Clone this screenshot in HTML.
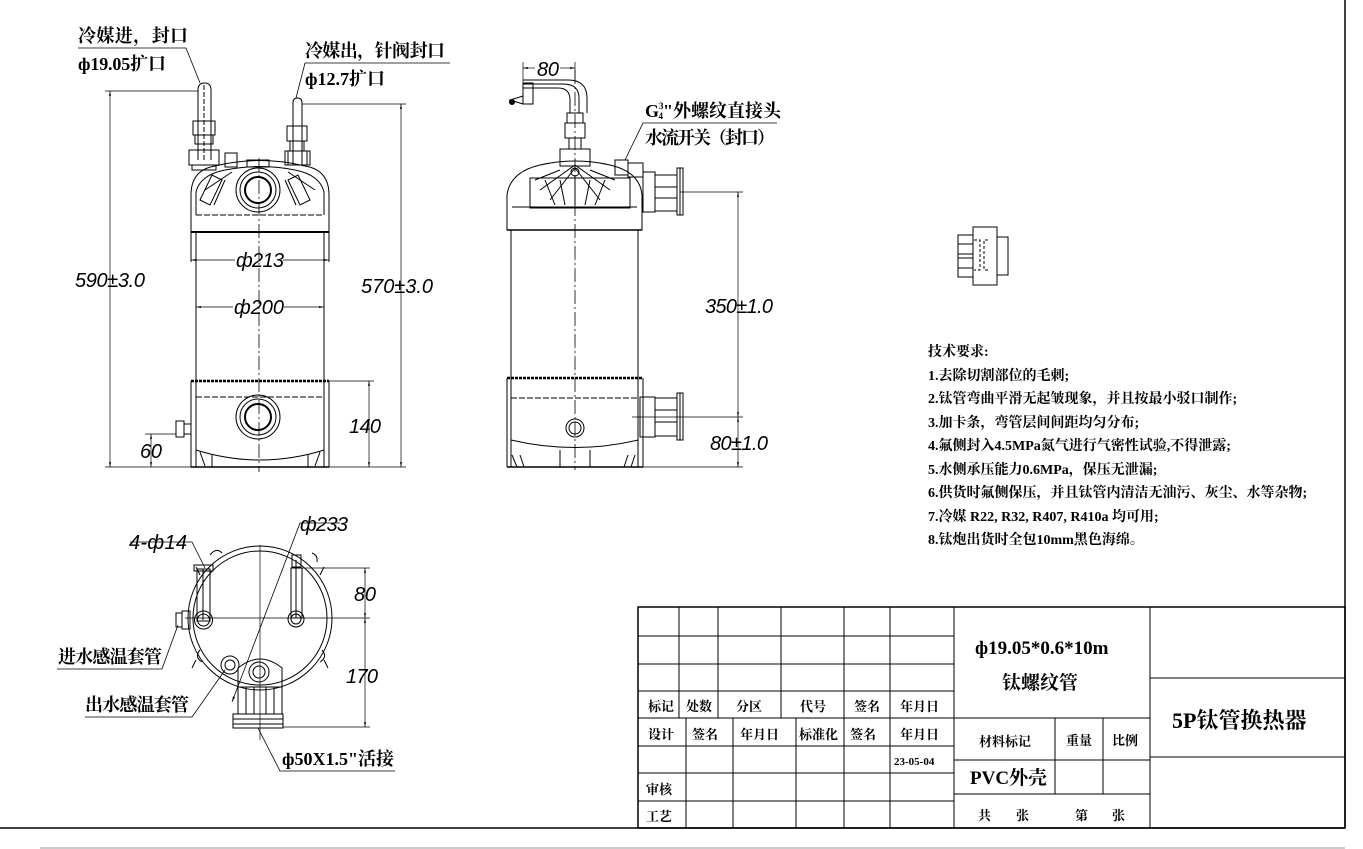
<!DOCTYPE html>
<html><head><meta charset="utf-8"><style>
html,body{margin:0;padding:0;background:#fff;}
svg{display:block;}
.t{font-family:"Liberation Serif","Noto Serif CJK SC",serif;font-weight:bold;fill:#000;}
.d{font-family:"Liberation Sans",sans-serif;font-style:italic;fill:#000;font-weight:normal;}
.tb{font-family:"Liberation Serif","Noto Serif CJK SC",serif;fill:#000;font-weight:bold;}
</style></head><body>
<svg width="1363" height="849" viewBox="0 0 1363 849" xmlns="http://www.w3.org/2000/svg">
<defs>
<marker id="a" viewBox="0 0 10 10" refX="10" refY="5" markerWidth="7" markerHeight="7" orient="auto-start-reverse"><path d="M0,3 L10,5 L0,7z" fill="#000"/></marker>
</defs>
<g stroke="#000" fill="none" stroke-width="1">
<line x1="1345" y1="0" x2="1345" y2="828" stroke-width="1.5"/>
<line x1="0" y1="828" x2="1345" y2="828" stroke-width="1.5"/>
<line x1="40" y1="848" x2="1345" y2="848" stroke="#999"/>

<!-- LEFT FRONT VIEW -->
<path d="M191,232 L191,195 Q191,170 215,166 Q260,155 305,166 Q329,170 329,195 L329,232"/>
<path d="M196,215 L196,192 Q200,175 225,170 Q260,163 295,170 Q320,175 324,192 L324,215"/>
<line x1="191" y1="232" x2="191" y2="262"/><line x1="329" y1="232" x2="329" y2="262"/>
<line x1="196" y1="232" x2="196" y2="467"/><line x1="324" y1="232" x2="324" y2="467"/>
<line x1="196" y1="215" x2="324" y2="215" stroke-dasharray="6,2"/>
<line x1="191" y1="232" x2="329" y2="232" stroke-width="2"/>
<line x1="191" y1="381" x2="329" y2="381" stroke-width="2.5" stroke-dasharray="3,1"/>
<line x1="191" y1="381" x2="191" y2="467"/><line x1="329" y1="381" x2="329" y2="467"/>
<line x1="196" y1="397" x2="324" y2="397" stroke-dasharray="6,2"/>
<path d="M196,450 Q260,470 324,450"/>
<line x1="191" y1="467" x2="329" y2="467" stroke-width="1.5"/>
<path d="M200,452 l5,14 M212,455 l0,12 M308,455 l0,12 M320,452 l-5,14"/>
<path d="M200,200 L212,175 L222,180 L210,205z M310,200 L298,175 L288,180 L300,205z M214,205 L225,180 M296,205 L285,180 M205,190 L232,172 M315,190 L288,172"/>
<circle cx="258" cy="190" r="22"/><circle cx="258" cy="190" r="18"/><circle cx="258" cy="190" r="13" stroke-width="2"/>
<circle cx="258" cy="417" r="22"/><circle cx="258" cy="417" r="18"/><circle cx="258" cy="417" r="13" stroke-width="2"/>
<rect x="225" y="153" width="12" height="14"/>
<rect x="247" y="160" width="22" height="7"/>
<path d="M198,160 L198,90 Q198,83 204.5,83 Q211,83 211,90 L211,160"/>
<line x1="204" y1="85" x2="204" y2="160" stroke-dasharray="5,2"/>
<rect x="193" y="121" width="22" height="14"/><rect x="195" y="135" width="18" height="9"/>
<rect x="189" y="150" width="30" height="15"/><rect x="192" y="165" width="24" height="5"/>
<path d="M293,165 L293,103 Q293,98 297.5,98 Q302,98 302,103 L302,165"/>
<rect x="287" y="126" width="20" height="15"/><rect x="290" y="141" width="14" height="10"/>
<rect x="285" y="151" width="25" height="14"/><rect x="288" y="151" width="19" height="14"/>
<rect x="176" y="421" width="8" height="16"/><rect x="184" y="424" width="7" height="10"/>
<line x1="259" y1="158" x2="259" y2="472" stroke-dasharray="14,3,2,3" stroke-width="0.8"/>
<line x1="105" y1="91" x2="198" y2="91" stroke-width="0.7"/>
<line x1="105" y1="467" x2="196" y2="467" stroke-width="0.7"/>
<line x1="110" y1="91" x2="110" y2="467" stroke-width="0.7" marker-start="url(#a)" marker-end="url(#a)"/>
<line x1="302" y1="104" x2="406" y2="104" stroke-width="0.7"/>
<line x1="329" y1="467" x2="406" y2="467" stroke-width="0.7"/>
<line x1="401" y1="104" x2="401" y2="467" stroke-width="0.7" marker-start="url(#a)" marker-end="url(#a)"/>
<line x1="329" y1="381" x2="374" y2="381" stroke-width="0.7"/>
<line x1="369" y1="381" x2="369" y2="467" stroke-width="0.7" marker-start="url(#a)" marker-end="url(#a)"/>
<line x1="145" y1="434" x2="176" y2="434" stroke-width="0.7"/>
<line x1="151" y1="434" x2="151" y2="467" stroke-width="0.7" marker-start="url(#a)" marker-end="url(#a)"/>
<line x1="191" y1="260" x2="235" y2="260" stroke-width="0.7" marker-start="url(#a)"/>
<line x1="283" y1="260" x2="329" y2="260" stroke-width="0.7" marker-end="url(#a)"/>
<line x1="196" y1="307" x2="233" y2="307" stroke-width="0.7" marker-start="url(#a)"/>
<line x1="284" y1="307" x2="324" y2="307" stroke-width="0.7" marker-end="url(#a)"/>
<polyline points="78,48 186,48 200,83" stroke-width="0.8"/>
<polyline points="450,63 305,63 296,98" stroke-width="0.8"/>

<!-- MIDDLE SIDE VIEW -->
<path d="M507,230 L507,195 Q510,172 540,165 Q575,157 610,165 Q640,172 642,195 L642,230 Z"/>
<line x1="512" y1="207" x2="637" y2="207"/>
<line x1="507" y1="230" x2="642" y2="230" stroke-width="1.5"/>
<line x1="511" y1="230" x2="511" y2="467"/><line x1="638" y1="230" x2="638" y2="467"/>
<line x1="507" y1="378" x2="643" y2="378" stroke-width="2.5" stroke-dasharray="3,1"/>
<line x1="507" y1="378" x2="507" y2="467"/><line x1="643" y1="378" x2="643" y2="467"/>
<line x1="511" y1="398" x2="638" y2="398" stroke-dasharray="6,2"/>
<path d="M511,440 Q575,455 638,440"/>
<line x1="507" y1="467" x2="643" y2="467" stroke-width="1.5"/>
<path d="M512,455 l5,12 M520,455 l4,12 M628,455 l-4,12 M635,455 l-4,12 M560,450 l0,17 M590,450 l0,17"/>
<rect x="530" y="178" width="100" height="30"/>
<path d="M545,180 L555,205 M560,180 L565,205 M575,175 L575,205 M590,180 L585,205 M605,180 L595,205 M540,190 L575,165 L610,190 M550,200 L575,168 L600,200 M535,180 L560,170 M615,180 L590,170"/>
<circle cx="575" cy="172" r="4"/>
<rect x="560" y="149" width="30" height="17"/>
<rect x="565" y="123" width="20" height="15"/><rect x="567" y="113" width="16" height="10"/>
<rect x="569" y="138" width="12" height="11"/>
<path d="M570,113 L570,100 Q570,88 558,88 L523,88"/>
<path d="M587,113 L587,98 Q587,80 568,80 L523,80"/>
<path d="M579,113 L579,98 Q579,84 563,84 L523,84"/>
<rect x="523" y="83" width="10" height="21"/>
<path d="M523,96 L510,100 L523,104" />
<circle cx="512" cy="102" r="2.5" fill="#000"/>
<rect x="615" y="160" width="13" height="15"/><rect x="628" y="163" width="15" height="14"/>
<rect x="643" y="172" width="12" height="40"/><rect x="655" y="175" width="22" height="36"/>
<line x1="655" y1="187" x2="677" y2="187"/><line x1="655" y1="198" x2="677" y2="198"/>
<rect x="677" y="168" width="6" height="47"/><line x1="680" y1="168" x2="680" y2="215"/>
<rect x="640" y="397" width="15" height="40"/><rect x="655" y="398" width="22" height="38"/>
<line x1="655" y1="410" x2="677" y2="410"/><line x1="655" y1="422" x2="677" y2="422"/>
<rect x="677" y="393" width="6" height="47"/><line x1="680" y1="393" x2="680" y2="440"/>
<circle cx="575" cy="428" r="9"/><circle cx="575" cy="428" r="6"/>
<line x1="575" y1="70" x2="575" y2="470" stroke-dasharray="14,3,2,3" stroke-width="0.8"/>
<line x1="523" y1="62" x2="523" y2="84" stroke-width="0.7"/><line x1="575" y1="62" x2="575" y2="80" stroke-width="0.7"/>
<line x1="523" y1="68" x2="535" y2="68" stroke-width="0.7" marker-start="url(#a)"/>
<line x1="560" y1="68" x2="575" y2="68" stroke-width="0.7" marker-end="url(#a)"/>
<line x1="680" y1="192" x2="743" y2="192" stroke-width="0.7"/>
<line x1="632" y1="417" x2="743" y2="417" stroke-width="0.7"/>
<line x1="643" y1="467" x2="743" y2="467" stroke-width="0.7"/>
<line x1="738" y1="192" x2="738" y2="417" stroke-width="0.7" marker-start="url(#a)" marker-end="url(#a)"/>
<line x1="738" y1="417" x2="738" y2="467" stroke-width="0.7" marker-start="url(#a)" marker-end="url(#a)"/>
<polyline points="777,123 643,123 625,160" stroke-width="0.8"/>

<!-- small part -->
<rect x="973" y="227" width="24" height="58"/>
<rect x="958" y="235" width="15" height="42"/>
<line x1="958" y1="244" x2="973" y2="244"/><line x1="958" y1="254" x2="973" y2="254"/><line x1="958" y1="258" x2="973" y2="258"/><line x1="958" y1="268" x2="973" y2="268"/>
<rect x="997" y="237" width="11" height="38"/>
<path d="M974,240 h6 v30 h-6 M988,240 h-4 v30 h4" stroke-dasharray="3,2"/>

<!-- BOTTOM VIEW -->
<circle cx="260" cy="618" r="72"/>
<circle cx="260" cy="618" r="67"/>
<path d="M238,687 L238,668 Q260,650 282,668 L282,687"/>
<circle cx="259" cy="672" r="10"/><circle cx="259" cy="672" r="6"/>
<rect x="238" y="687" width="44" height="27"/>
<line x1="246" y1="687" x2="246" y2="714"/><line x1="254" y1="687" x2="254" y2="714"/><line x1="266" y1="687" x2="266" y2="714"/><line x1="274" y1="687" x2="274" y2="714"/>
<rect x="233" y="714" width="50" height="14"/>
<line x1="233" y1="719" x2="283" y2="719"/><line x1="233" y1="724" x2="283" y2="724"/>
<circle cx="230" cy="665" r="9"/><circle cx="230" cy="665" r="5"/>
<rect x="197" y="569" width="13" height="52"/><line x1="203" y1="569" x2="203" y2="620"/>
<circle cx="203.5" cy="620" r="9"/><circle cx="203.5" cy="620" r="6"/>
<rect x="194" y="565" width="19" height="6"/>
<rect x="291" y="568" width="11" height="50"/><line x1="296" y1="560" x2="296" y2="618"/>
<rect x="292" y="555" width="9" height="12"/>
<circle cx="296" cy="619" r="8"/><circle cx="296" cy="619" r="5"/>
<rect x="176" y="613" width="6" height="14"/><rect x="182" y="611" width="8" height="18"/>
<path d="M210,555 q6,-8 12,-2 M312,553 q6,2 5,9 M202,662 q-8,-5 -2,-12 M320,662 q8,-5 2,-12 M196,660 l-4,8 M324,660 l4,8 M200,575 l-4,-8 M320,575 l4,-8"/>
<line x1="260" y1="545" x2="260" y2="740" stroke-width="0.7"/>
<line x1="185" y1="618" x2="370" y2="618" stroke-width="0.7"/>
<line x1="302" y1="568" x2="370" y2="568" stroke-width="0.7"/>
<line x1="283" y1="727" x2="370" y2="727" stroke-width="0.7"/>
<line x1="365" y1="568" x2="365" y2="618" stroke-width="0.7" marker-start="url(#a)" marker-end="url(#a)"/>
<line x1="365" y1="618" x2="365" y2="727" stroke-width="0.7" marker-start="url(#a)" marker-end="url(#a)"/>
<polyline points="130,542 192,542 205,568" stroke-width="0.8"/>
<polyline points="340,523 300,523 232,702" stroke-width="0.8" marker-end="url(#a)"/>
<polyline points="57,669 162,669 178,625" stroke-width="0.8"/>
<polyline points="85,717 192,717 225,670" stroke-width="0.8"/>
<polyline points="395,771 280,771 258,728" stroke-width="0.8"/>

<!-- TITLE BLOCK -->
<rect x="638" y="607" width="707" height="221" stroke-width="1.5"/>
<line x1="638" y1="636" x2="954" y2="636"/><line x1="638" y1="664" x2="954" y2="664"/><line x1="638" y1="691" x2="954" y2="691"/>
<line x1="638" y1="718" x2="954" y2="718"/><line x1="638" y1="746" x2="954" y2="746"/><line x1="638" y1="773" x2="954" y2="773"/><line x1="638" y1="801" x2="954" y2="801"/>
<line x1="679" y1="607" x2="679" y2="718"/><line x1="718" y1="607" x2="718" y2="718"/><line x1="781" y1="607" x2="781" y2="718"/>
<line x1="686" y1="718" x2="686" y2="828"/><line x1="733" y1="718" x2="733" y2="828"/><line x1="796" y1="718" x2="796" y2="828"/>
<line x1="844" y1="607" x2="844" y2="828"/><line x1="890" y1="607" x2="890" y2="828"/><line x1="954" y1="607" x2="954" y2="828"/>
<line x1="954" y1="718" x2="1150" y2="718"/><line x1="954" y1="760" x2="1150" y2="760"/><line x1="954" y1="794" x2="1150" y2="794"/>
<line x1="1055" y1="718" x2="1055" y2="794"/><line x1="1103" y1="718" x2="1103" y2="794"/>
<line x1="1150" y1="607" x2="1150" y2="828"/>
<line x1="1150" y1="678" x2="1345" y2="678"/><line x1="1150" y1="757" x2="1345" y2="757"/>
</g>

<g class="t" font-size="18">
<text x="78" y="42" textLength="110">冷媒进，封口</text>
<text x="78" y="70" textLength="88">ф19.05扩口</text>
<text x="305" y="57" textLength="140">冷媒出，针阀封口</text>
<text x="305" y="85" textLength="80">ф12.7扩口</text>
<text x="645" y="117">G<tspan font-size="9" dy="-8">3</tspan><tspan font-size="9" dx="-5" dy="10">4</tspan><tspan dy="-2">"外螺纹直接头</tspan></text>
<text x="645" y="144" textLength="130">水流开关（封口）</text>
<text x="58" y="663" textLength="104">进水感温套管</text>
<text x="85" y="711" textLength="104">出水感温套管</text>
<text x="282" y="765" textLength="112">ф50X1.5"活接</text>
</g>
<g class="d" font-size="20">
<text x="75" y="287" textLength="70">590±3.0</text>
<text x="361" y="293" textLength="72">570±3.0</text>
<text x="236" y="267" textLength="48">ф213</text>
<text x="234" y="314" textLength="50">ф200</text>
<text x="349" y="433" textLength="32">140</text>
<text x="140" y="458" textLength="22">60</text>
<text x="537" y="76" textLength="22">80</text>
<text x="705" y="313" textLength="68">350±1.0</text>
<text x="710" y="450" textLength="58">80±1.0</text>
<text x="129" y="549" textLength="58">4-ф14</text>
<text x="300" y="531" textLength="48">ф233</text>
<text x="354" y="601" textLength="22">80</text>
<text x="346" y="683" textLength="32">170</text>
</g>
<g class="t" font-size="14">
<text x="928" y="356">技术要求:</text>
<text x="928" y="380">1.去除切割部位的毛刺;</text>
<text x="928" y="403">2.钛管弯曲平滑无起皱现象，并且按最小驳口制作;</text>
<text x="928" y="427">3.加卡条，弯管层间间距均匀分布;</text>
<text x="928" y="450">4.氟侧封入4.5MPa氮气进行气密性试验,不得泄露;</text>
<text x="928" y="474">5.水侧承压能力0.6MPa，保压无泄漏;</text>
<text x="928" y="497">6.供货时氟侧保压，并且钛管内清洁无油污、灰尘、水等杂物;</text>
<text x="928" y="521">7.冷媒 R22, R32, R407, R410a 均可用;</text>
<text x="928" y="544">8.钛炮出货时全包10mm黑色海绵。</text>
</g>
<g class="tb" font-size="13">
<text x="648" y="711">标记</text><text x="686" y="711">处数</text><text x="736" y="711">分区</text><text x="800" y="711">代号</text><text x="854" y="711">签名</text><text x="900" y="711">年月日</text>
<text x="648" y="739">设计</text><text x="692" y="739">签名</text><text x="740" y="739">年月日</text><text x="799" y="739">标准化</text><text x="850" y="739">签名</text><text x="900" y="739">年月日</text>
<text x="894" y="765" font-size="11">23-05-04</text>
<text x="646" y="794">审核</text><text x="646" y="821">工艺</text>
<text x="979" y="746">材料标记</text><text x="1066" y="745">重量</text><text x="1112" y="745">比例</text>
<text x="978" y="820">共</text><text x="1016" y="820">张</text><text x="1075" y="820">第</text><text x="1112" y="820">张</text>
</g>
<g class="tb" font-size="19" font-weight="normal">
<text x="975" y="654">ф19.05*0.6*10m</text>
<text x="1002" y="689">钛螺纹管</text>
<text x="970" y="784">PVC外壳</text>
<text x="1172" y="728" font-size="22">5P钛管换热器</text>
</g>
</svg>
</body></html>
